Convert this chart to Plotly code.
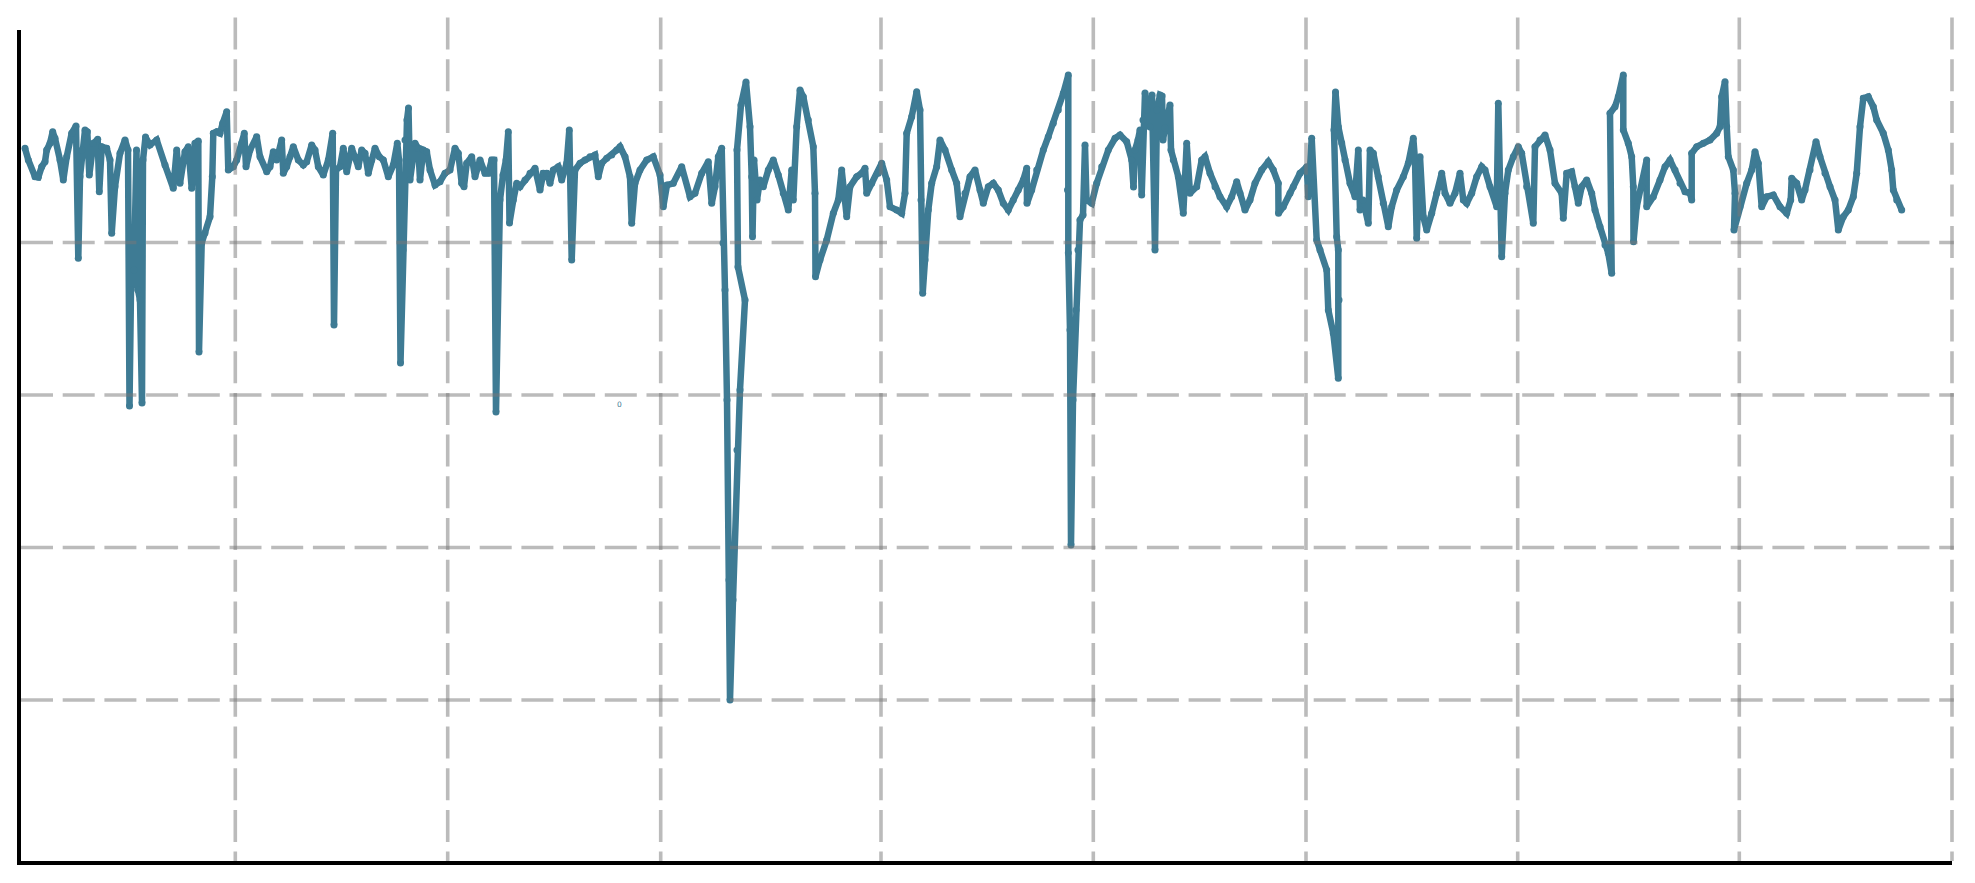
import plotly.graph_objects as go

# ---- data (time index, level) ----
t = [25, 28.3, 35, 38.3, 41.7, 45, 46.7, 50, 52.7, 55, 60, 63.3, 66.7, 71.7, 76, 78.3, 80, 82, 85, 87.3,
     89.3, 93.3, 97.7, 99.3, 101.7, 106.7, 110, 111.7, 115, 120, 125, 128, 129.5, 131, 134, 136.5, 138, 140, 142, 143,
     145.5, 150, 156.7, 165, 173.3, 176.7, 180, 185, 188.3, 191.7, 195, 198.3, 199, 201.7, 205, 210, 212.3, 213.3, 216.7, 220,
     222.7, 226.7, 228.3, 233.3, 236.7, 241.7, 244.3, 246, 250, 256.7, 260, 266.7, 270, 273.3, 276.7, 281.7, 283.3, 286.7, 290, 293.3,
     298.3, 303.3, 306.7, 311.7, 315, 318.3, 323.3, 328.3, 332.7, 334, 336, 340, 343.3, 346.7, 351.7, 355, 358.3, 361.7, 365, 368.3,
     371.7, 375, 379.3, 383.3, 388.3, 393.3, 397.3, 399, 400.5, 403, 405, 407, 408.5, 410, 415, 418.3, 420, 423.3, 426.7, 430,
     435, 440, 445, 450, 455, 458.3, 461.7, 464, 466.7, 471.7, 475, 480, 485, 488.3, 491.7, 494, 496, 498, 500, 503,
     506, 508.3, 509.5, 513.3, 516.7, 520, 525, 530, 535, 540, 543.3, 546.7, 550, 553.3, 558.3, 561.7, 566.7, 569.3, 571.7, 575,
     580, 585, 590, 595, 598.3, 601.7, 606.7, 611.7, 616.7, 620, 625, 630, 631.7, 635, 640, 646.7, 653.3, 660, 663.3, 667,
     673.3, 681.7, 690, 695, 701.7, 708.3, 711.7, 715, 718.3, 721.7, 723, 725, 727, 729, 730, 733, 737, 740, 745, 738,
     737, 741, 746, 750, 751.7, 752.5, 754, 757, 760, 763.3, 768.3, 773.3, 778.3, 783.3, 788.3, 791.7, 793.3, 796.7, 800, 803.3,
     808.3, 813.3, 815, 815.5, 820, 826.7, 833.3, 838.3, 841.7, 846.7, 850, 856.7, 861.7, 865, 866.7, 871.7, 878.3, 881.7, 886.7, 890,
     896.7, 901.7, 905, 906.7, 911.7, 916.7, 920, 921, 922.7, 925, 928.3, 931.7, 936.7, 940, 945, 951.7, 956.7, 960, 965, 970,
     975, 980, 983.3, 988.3, 993.3, 998.3, 1003.3, 1008.3, 1013.3, 1018.3, 1023.3, 1026.7, 1027, 1031.7, 1036.7, 1043.3, 1048.3, 1053.3, 1058.3, 1063.3,
     1068.3, 1067.5, 1068.3, 1070, 1071, 1073, 1076, 1078, 1080, 1083, 1085, 1086.5, 1091.7, 1096.7, 1101.7, 1108.3, 1115, 1120, 1126.7, 1131.7,
     1133.5, 1135, 1138, 1140, 1141.7, 1143, 1145, 1147, 1150, 1152, 1155, 1157, 1160, 1162, 1163, 1165, 1170, 1171, 1173.3, 1178.3,
     1183.3, 1186.7, 1190, 1196.7, 1201.7, 1205, 1210, 1215, 1220, 1226.7, 1231.7, 1236.7, 1240, 1245, 1250, 1255, 1261.7, 1268.3, 1273.3, 1278.3,
     1278.5, 1283.3, 1290, 1293.3, 1300, 1306.7, 1308.3, 1311.7, 1313.3, 1316.7, 1320, 1326.7, 1328.3, 1333.3, 1338.3, 1339, 1338.3, 1336.7, 1334, 1335.5,
     1338.3, 1341.7, 1345, 1350, 1355, 1358.3, 1360, 1363, 1368.3, 1370, 1373.3, 1378.3, 1383.3, 1388.3, 1391.7, 1396.7, 1403.3, 1408.3, 1413.3, 1415,
     1416.7, 1420, 1423.3, 1426.7, 1431.7, 1436.7, 1441.7, 1445, 1450, 1455, 1460, 1463.3, 1466.7, 1471.7, 1476.7, 1481.7, 1485, 1490, 1496.7, 1498.3,
     1501.7, 1505, 1508.3, 1513.3, 1518.3, 1521.7, 1526.7, 1533.3, 1535, 1540, 1545, 1550, 1555, 1561.7, 1563.3, 1566.7, 1571.7, 1575, 1578.3, 1581.7,
     1586.7, 1591.7, 1595, 1600, 1605, 1608.3, 1611.7, 1610, 1615, 1618.3, 1623.3, 1623.3, 1628.3, 1631.7, 1633.3, 1633.5, 1636.7, 1641.7, 1646.7, 1646.7,
     1653.3, 1660, 1665, 1670, 1675, 1680, 1685, 1690, 1691.7, 1691.7, 1696.7, 1703.3, 1710, 1716.7, 1720, 1721.7, 1725, 1726.7, 1728.3, 1733.3,
     1735, 1734, 1740, 1746.7, 1751.7, 1755, 1758.3, 1761.7, 1766.7, 1773.3, 1780, 1786.7, 1790.7, 1791.7, 1796.7, 1801.7, 1805, 1810, 1816, 1820,
     1825, 1830, 1835, 1838.3, 1843.3, 1848.3, 1853.3, 1856.7, 1860, 1863.3, 1868.3, 1873.3, 1876.7, 1883.3, 1888.3, 1891.7, 1893.3, 1896.7, 1901.7]

level = [712.7, 701, 684.3, 683.7, 694.3, 699.3, 711, 717.7, 729.3, 722.7, 701, 681, 704.3, 727.7, 735, 602.7, 684.3, 711, 731, 729.3,
         686, 717.7, 721.7, 669.3, 714.3, 712.7, 701, 627.7, 674.3, 707.7, 721, 711, 455, 571, 591, 711, 571, 561, 458, 701,
         724, 716, 721, 696, 672.7, 711, 677.7, 709.3, 714.3, 672.7, 717.7, 720, 509, 618, 628, 644.3, 684.3, 727.7, 729.3, 727.7,
         737.7, 749.3, 691, 694.3, 701, 717.7, 727.7, 694.3, 711, 724.3, 704.3, 689.3, 694.3, 709.3, 701, 721, 687.7, 694.3, 704.3, 714.3,
         701, 696, 699.3, 716, 711, 694.3, 686, 701, 727.7, 536, 691, 694.3, 712.7, 689.3, 712.7, 704.3, 694.3, 711, 707.7, 687.7,
         701, 712.7, 704.3, 701, 684.3, 696, 717.7, 701, 498, 611, 721, 741, 753, 681, 717.7, 712.7, 681, 711, 709.3, 691,
         676, 679.3, 687.7, 691, 712.7, 707.7, 677.7, 674.3, 697.7, 704.3, 684.3, 701, 687.7, 687.7, 701, 701, 449, 611, 661, 686,
         701, 729.3, 638, 661, 677.7, 674.3, 681, 687.7, 692.7, 671, 687.7, 687.7, 677.7, 691, 694.3, 681, 697.7, 731, 601, 691,
         697.7, 701, 704.3, 706, 684.3, 697.7, 702.7, 706, 711, 714.3, 704.3, 684.3, 637.7, 677.7, 691, 701, 704.3, 686, 654.3, 676,
         677.7, 694.3, 664.3, 667.7, 687.7, 699.3, 657.7, 674.3, 704.3, 712.7, 618, 571, 461, 281, 161, 261, 411, 471, 561, 594,
         711, 756, 779, 734.3, 684.3, 624.3, 701, 661, 681, 674.3, 691, 701, 686, 667.7, 651, 691, 661, 734.3, 771, 764.3,
         741, 714.3, 667.7, 584.3, 601, 621, 647.7, 661, 691, 644.3, 674.3, 684.3, 687.7, 692.7, 667.7, 677.7, 687.7, 697.7, 681, 654.3,
         651, 647.7, 667.7, 727.7, 744.3, 769.3, 751, 661, 567.7, 601, 651, 677.7, 694.3, 721, 711, 691, 677.7, 644.3, 667.7, 684.3,
         691, 671, 657.7, 674.3, 677.7, 671, 657.7, 651, 661, 671, 681, 692.7, 657.7, 671, 691, 711, 724.3, 737.7, 751, 767.7,
         786, 671, 608, 531, 316, 461, 551, 611, 641, 646, 716, 661, 657.7, 677.7, 694.3, 711, 722.7, 726, 719.3, 701,
         674, 711, 721, 731, 666, 741, 768, 751, 734, 766, 611, 751, 766, 765, 721, 733, 756, 711, 701, 684.3,
         647.7, 717.7, 667.7, 674.3, 701, 704.3, 687.7, 674.3, 664.3, 654.3, 664.3, 679.3, 667.7, 651, 661, 677.7, 691, 699.3, 691, 677.7,
         647.7, 654.3, 667.7, 674.3, 687.7, 694.3, 664.3, 722.7, 677.7, 621, 611, 591, 551, 527.7, 482.7, 561, 611, 624.3, 731, 769,
         734.3, 718, 701, 677.7, 664.3, 711, 651, 661, 637.7, 711, 707.7, 684.3, 657.7, 634.3, 654.3, 671, 684.3, 697.7, 722.7, 701,
         622.7, 704.3, 644.3, 631, 647.7, 667.7, 687.7, 667.7, 657.7, 667.7, 687.7, 661, 657.7, 667.7, 684.3, 694.3, 691, 674.3, 654.3, 757.7,
         604.3, 667.7, 691, 704.3, 714.3, 707.7, 674.3, 637.7, 714.3, 721, 726, 711, 677.7, 667.7, 642.7, 687.7, 689.3, 674.3, 657.7, 674.3,
         681, 667.7, 651, 634.3, 616, 607.7, 587.7, 747.7, 754.3, 764.3, 786, 731, 717.7, 704.3, 674.3, 619.3, 654.3, 674.3, 701, 654.3,
         664.3, 681, 694.3, 701, 691, 677.7, 669.3, 667.7, 661, 707.7, 714.3, 717.7, 721, 727.7, 734.3, 764.3, 779.3, 734.3, 704.3, 691,
         667.7, 631, 654.3, 677.7, 691, 709.3, 697.7, 654.3, 664.3, 666, 654.3, 647.7, 661, 682.7, 677.7, 661, 671, 691, 719.3, 704.3,
         687.7, 674.3, 661, 631, 644.3, 651, 664.3, 687.7, 734.3, 762.7, 764.3, 754.3, 741, 727.7, 711, 691, 671, 661, 651]

# axis extents and gridline (tick) positions
t_range = [21, 1952]
level_range = [0, 831]
grid_t = [235.3, 447.7, 660.7, 881, 1093.3, 1306, 1517.7, 1739.3, 1952]
grid_level = [161, 313.5, 466, 618.5]

# small stray label
label_t, label_level, label_text = 619, 456.7, "0"

LINE_COLOR = "#3E7B94"
GRID_COLOR = "rgba(120,120,120,0.5)"
GRID_DASH = "32px,9.7px"

fig = go.Figure()
fig.add_trace(go.Scatter(x=t, y=level, mode="lines+markers",
                         line=dict(color=LINE_COLOR, width=6.5),
                         marker=dict(color=LINE_COLOR, size=7, line=dict(width=0)),
                         hoverinfo="skip", showlegend=False))

shapes = []
for gx in grid_t:
    px = (gx - t_range[0]) / (t_range[1] - t_range[0])
    shapes.append(dict(type="line", xref="paper", yref="paper",
                       x0=px, x1=px, y0=1.0149, y1=0,
                       line=dict(color=GRID_COLOR, width=3.6, dash=GRID_DASH),
                       layer="above"))
for gy in grid_level:
    shapes.append(dict(type="line", xref="paper", yref="y",
                       x0=0, x1=1.001, y0=gy, y1=gy,
                       line=dict(color=GRID_COLOR, width=3.6, dash=GRID_DASH),
                       layer="above"))

fig.update_layout(
    width=1967, height=875,
    margin=dict(l=13, r=23, t=22, b=22, pad=0),
    paper_bgcolor="white", plot_bgcolor="white",
    showlegend=False,
    shapes=shapes,
    annotations=[dict(x=label_t, y=label_level, xref="x", yref="y", text=label_text,
                      showarrow=False, font=dict(size=7.5, color=LINE_COLOR, family="DejaVu Sans"))],
    xaxis=dict(range=t_range, showgrid=False, zeroline=False, showticklabels=False,
               ticks="", showline=True, linecolor="black", linewidth=4, fixedrange=True),
    yaxis=dict(range=level_range, showgrid=False, zeroline=False, showticklabels=False,
               ticks="", showline=True, linecolor="black", linewidth=4, fixedrange=True),
)

fig.write_html("out.html")
